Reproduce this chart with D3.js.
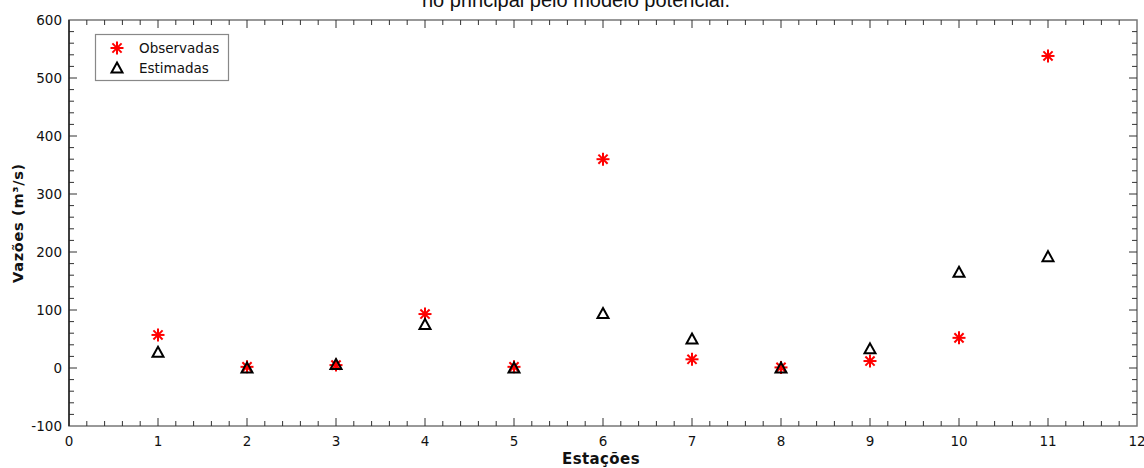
<!DOCTYPE html>
<html>
<head>
<meta charset="utf-8">
<script src="https://cdn.jsdelivr.net/npm/d3@7"></script>
<style>
  html, body { margin: 0; padding: 0; background: #fff; }
  svg { display: block; }
</style>
</head>
<body>
<svg id="chart" width="1144" height="468"></svg>
<script>
// Stations along the main river and flows (m³/s)
const estacoes = [1, 2, 3, 4, 5, 6, 7, 8, 9, 10, 11];
const observadas = [57, 2, 5, 93, 2, 360, 15, 1, 12, 52, 538];
const estimadas = [27, 0, 6, 75, 0, 94, 50, 0, 33, 165, 192];
const xTicks = [0, 1, 2, 3, 4, 5, 6, 7, 8, 9, 10, 11, 12];
const yTicks = [-100, 0, 100, 200, 300, 400, 500, 600];

const svg = d3.select("#chart");
const W = 1144, H = 468;
const m = { left: 69, right: 7, top: 20, bottom: 42 };

const x = d3.scaleLinear().domain([0, 12]).range([m.left, W - m.right]);
const y = d3.scaleLinear().domain([-100, 600]).range([H - m.bottom, m.top]);

const font = "'DejaVu Sans', Tahoma, sans-serif";

// Title (its upper part runs past the top of the page)
svg.append("text")
  .attr("x", 576).attr("y", 7)
  .attr("text-anchor", "middle")
  .attr("font-family", "'Liberation Sans', Arial, sans-serif")
  .attr("font-size", 20)
  .attr("fill", "#111")
  .text("rio principal pelo modelo potencial.");

// Minor tick values
const xMinor = d3.range(0, 12.001, 0.2).filter(v => Math.abs(v - Math.round(v)) > 1e-6);
const yMinor = d3.range(-100, 600.001, 20).filter(v => v % 100 !== 0);

const tickColor = "#333";
const lineColor = "#777";

// Frame
const g = svg.append("g");
g.append("rect")
  .attr("x", x(0)).attr("y", y(600))
  .attr("width", x(12) - x(0)).attr("height", y(-100) - y(600))
  .attr("fill", "none").attr("stroke", lineColor).attr("stroke-width", 1.5);

// Bottom ticks (pointing up) and top ticks (pointing down)
function xTickLines(vals, len) {
  g.selectAll(null).data(vals).enter().append("line")
    .attr("x1", d => x(d)).attr("x2", d => x(d))
    .attr("y1", y(-100)).attr("y2", y(-100) - len)
    .attr("stroke", tickColor).attr("stroke-width", 1);
  g.selectAll(null).data(vals).enter().append("line")
    .attr("x1", d => x(d)).attr("x2", d => x(d))
    .attr("y1", y(600)).attr("y2", y(600) + len)
    .attr("stroke", tickColor).attr("stroke-width", 1);
}
// Left ticks (pointing right) and right ticks (pointing left)
function yTickLines(vals, len) {
  g.selectAll(null).data(vals).enter().append("line")
    .attr("x1", x(0)).attr("x2", x(0) + len)
    .attr("y1", d => y(d)).attr("y2", d => y(d))
    .attr("stroke", tickColor).attr("stroke-width", 1);
  g.selectAll(null).data(vals).enter().append("line")
    .attr("x1", x(12)).attr("x2", x(12) - len)
    .attr("y1", d => y(d)).attr("y2", d => y(d))
    .attr("stroke", tickColor).attr("stroke-width", 1);
}
xTickLines(xTicks.slice(1, -1), 8);
xTickLines(xMinor, 5);
yTickLines(yTicks.slice(1, -1), 8);
yTickLines(yMinor, 5);

// Left axis line drawn darker
g.append("line").attr("x1", x(0)).attr("x2", x(0)).attr("y1", y(600)).attr("y2", y(-100))
  .attr("stroke", "#222").attr("stroke-width", 1.5);

// Tick labels
svg.append("g").selectAll("text").data(xTicks).enter().append("text")
  .attr("x", d => x(d)).attr("y", y(-100) + 20)
  .attr("text-anchor", "middle")
  .attr("font-family", font).attr("font-size", 13.5).attr("fill", "#111")
  .text(d => d);
svg.append("g").selectAll("text").data(yTicks).enter().append("text")
  .attr("x", x(0) - 7).attr("y", d => y(d) + 5)
  .attr("text-anchor", "end")
  .attr("font-family", font).attr("font-size", 13.5).attr("fill", "#111")
  .text(d => d);

// Axis titles
svg.append("text")
  .attr("x", (x(0) + x(12)) / 2 - 2).attr("y", 464)
  .attr("text-anchor", "middle")
  .attr("font-family", font).attr("font-size", 15).attr("font-weight", "bold")
  .attr("letter-spacing", 0.4)
  .attr("fill", "#111")
  .text("Estações");
svg.append("text")
  .attr("transform", `translate(23,${(y(600) + y(-100)) / 2}) rotate(-90)`)
  .attr("text-anchor", "middle")
  .attr("font-family", font).attr("font-size", 14.5).attr("font-weight", "bold")
  .attr("letter-spacing", 0.7)
  .attr("fill", "#111")
  .text("Vazões (m³/s)");

// Marker shapes
function asterisk(sel, r) {
  [0, 45, 90, 135].forEach(a => {
    const rad = a * Math.PI / 180;
    sel.append("line")
      .attr("x1", -r * Math.cos(rad)).attr("y1", -r * Math.sin(rad))
      .attr("x2", r * Math.cos(rad)).attr("y2", r * Math.sin(rad))
      .attr("stroke", "#ff0000").attr("stroke-width", 2);
  });
}
const triPath = "M0,-5.5 L5.5,4.5 L-5.5,4.5 Z";

const pts = svg.append("g");
// Observed flows
pts.selectAll("g.obs").data(estacoes).enter().append("g")
  .attr("class", "obs")
  .attr("transform", (d, i) => `translate(${x(d)},${y(observadas[i])})`)
  .each(function () { asterisk(d3.select(this), 6.5); });
// Estimated flows
pts.selectAll("path.est").data(estacoes).enter().append("path")
  .attr("class", "est")
  .attr("d", triPath)
  .attr("transform", (d, i) => `translate(${x(d)},${y(estimadas[i])})`)
  .attr("fill", "none").attr("stroke", "#000").attr("stroke-width", 2);

// Legend
const lg = svg.append("g");
lg.append("rect").attr("x", 95.5).attr("y", 34.5).attr("width", 133).attr("height", 46)
  .attr("fill", "#fff").attr("stroke", "#888").attr("stroke-width", 1.2);
const lgItems = ["Observadas", "Estimadas"];
lg.selectAll("text").data(lgItems).enter().append("text")
  .attr("x", 139).attr("y", (d, i) => 53 + i * 20)
  .attr("font-family", font).attr("font-size", 13.5).attr("fill", "#111")
  .text(d => d);
asterisk(lg.append("g").attr("transform", "translate(117,48)"), 6.5);
lg.append("path").attr("d", triPath).attr("transform", "translate(117,68)")
  .attr("fill", "none").attr("stroke", "#000").attr("stroke-width", 2);
</script>
</body>
</html>
